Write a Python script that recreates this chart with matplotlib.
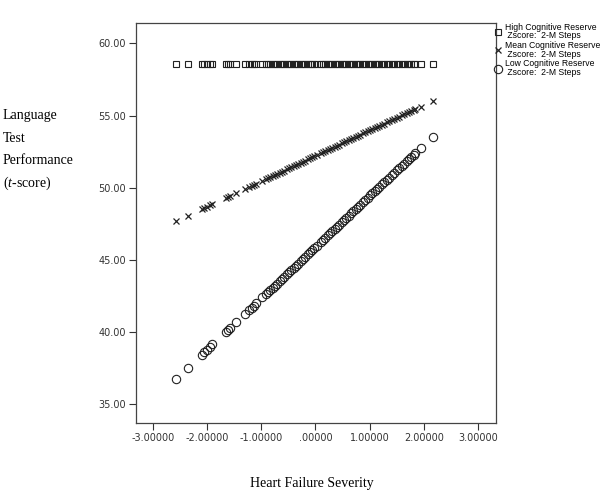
import matplotlib
matplotlib.use("Agg")
import matplotlib.pyplot as plt

# heart failure severity (x) for every case
severity = [-2.58, -2.36, -2.10, -2.05, -2.01, -1.95, -1.90, -1.65, -1.61, -1.57,
            -1.47, -1.30, -1.22, -1.18, -1.14, -1.10, -0.98,
            -0.92, -0.88, -0.84, -0.79, -0.75, -0.71, -0.66, -0.62, -0.58, -0.53,
            -0.49, -0.45, -0.40, -0.36, -0.32, -0.27, -0.23, -0.19, -0.14, -0.10,
            -0.06, -0.02, 0.02, 0.10, 0.14, 0.18, 0.23, 0.27, 0.31, 0.36,
            0.40, 0.44, 0.49, 0.53, 0.57, 0.62, 0.66, 0.70, 0.75, 0.79,
            0.83, 0.88, 0.92, 0.96, 1.01, 1.05, 1.09, 1.14, 1.18, 1.23,
            1.27, 1.32, 1.36, 1.41, 1.45, 1.50, 1.54, 1.59, 1.63, 1.68,
            1.72, 1.77, 1.81, 1.84, 1.94, 2.16]

high_cr = [58.56] * len(severity)

mean_cr = [47.67, 48.06, 48.51, 48.60, 48.67, 48.78, 48.87, 49.31, 49.38, 49.45,
           49.62, 49.92, 50.06, 50.13, 50.20, 50.27, 50.49,
           50.59, 50.66, 50.73, 50.82, 50.89, 50.96, 51.05, 51.12, 51.19, 51.28,
           51.35, 51.42, 51.51, 51.58, 51.65, 51.73, 51.81, 51.88, 51.96, 52.03,
           52.10, 52.17, 52.25, 52.39, 52.46, 52.53, 52.61, 52.69, 52.76, 52.84,
           52.91, 52.98, 53.07, 53.14, 53.21, 53.30, 53.37, 53.44, 53.53, 53.60,
           53.67, 53.76, 53.83, 53.90, 53.99, 54.06, 54.13, 54.22, 54.29, 54.37,
           54.45, 54.53, 54.60, 54.69, 54.76, 54.85, 54.92, 55.01, 55.08, 55.17,
           55.24, 55.33, 55.40, 55.45, 55.62, 56.01]

low_cr = [36.71, 37.49, 38.42, 38.59, 38.73, 38.95, 39.13, 40.01, 40.15, 40.30,
          40.65, 41.26, 41.54, 41.68, 41.82, 41.97, 42.39,
          42.60, 42.75, 42.89, 43.07, 43.21, 43.35, 43.53, 43.67, 43.81, 43.99,
          44.13, 44.27, 44.45, 44.59, 44.73, 44.91, 45.05, 45.20, 45.37, 45.52,
          45.66, 45.80, 45.94, 46.23, 46.37, 46.51, 46.69, 46.83, 46.97, 47.15,
          47.29, 47.43, 47.61, 47.75, 47.89, 48.07, 48.21, 48.36, 48.53, 48.67,
          48.82, 48.99, 49.14, 49.28, 49.46, 49.60, 49.74, 49.92, 50.06, 50.24,
          50.38, 50.56, 50.70, 50.88, 51.02, 51.20, 51.34, 51.51, 51.66, 51.83,
          51.98, 52.15, 52.30, 52.40, 52.76, 53.54]

labels = ["High Cognitive Reserve\n Zscore:  2-M Steps",
          "Mean Cognitive Reserve\n Zscore:  2-M Steps",
          "Low Cognitive Reserve\n Zscore:  2-M Steps"]

x_ticks = [-3, -2, -1, 0, 1, 2, 3]
y_ticks = [35, 40, 45, 50, 55, 60]

plt.rcParams['mathtext.fontset'] = 'custom'
plt.rcParams['mathtext.rm'] = 'Liberation Serif'
plt.rcParams['mathtext.it'] = 'Liberation Serif:italic'

fig = plt.figure(figsize=(6, 4.95), dpi=100)
ax = fig.add_axes([0.2267, 0.1455, 0.6, 0.808])

ink = '#222222'
h1, = ax.plot(severity, high_cr, ls='none', marker='s', ms=5.0, mfc='none',
              mec=ink, mew=0.8)
h2, = ax.plot(severity, mean_cr, ls='none', marker='x', ms=4.0,
              mec=ink, mew=0.9)
h3, = ax.plot(severity, low_cr, ls='none', marker='o', ms=6.0, mfc='none',
              mec=ink, mew=0.8)

ax.set_xlim(-3.31, 3.33)
ax.set_ylim(33.68, 61.42)
ax.set_xticks(x_ticks)
ax.set_yticks(y_ticks)
ax.set_xticklabels(["-3.00000", "-2.00000", "-1.00000", ".00000",
                    "1.00000", "2.00000", "3.00000"])
ax.set_yticklabels(["%.2f" % v for v in y_ticks])
ax.tick_params(labelsize=7, colors='#333333', length=5, width=0.8, pad=2)
for s in ax.spines.values():
    s.set_color('#444444')
    s.set_linewidth(0.9)

fig.text(312 / 600, 1 - 484 / 495, "Heart Failure Severity", ha='center',
         va='center', family='Liberation Serif', fontsize=10)
ylabel_lines = ["Language", "Test", "Performance", "($\\mathit{t}$-score)"]
for i, line in enumerate(ylabel_lines):
    fig.text(3 / 600, 1 - (119 + 22.7 * i) / 495, line, ha='left',
             va='baseline', family='Liberation Serif', fontsize=10)

leg = fig.legend([h1, h2, h3], labels, loc='upper left',
                 bbox_to_anchor=(0.818, 0.962), frameon=False, borderpad=0,
                 handlelength=0.7, handletextpad=0.4, labelspacing=0.1,
                 prop={'family': 'Liberation Sans', 'size': 6.2})
for t in leg.get_texts():
    t.set_linespacing(0.9)

fig.savefig("out.png", dpi=100)
